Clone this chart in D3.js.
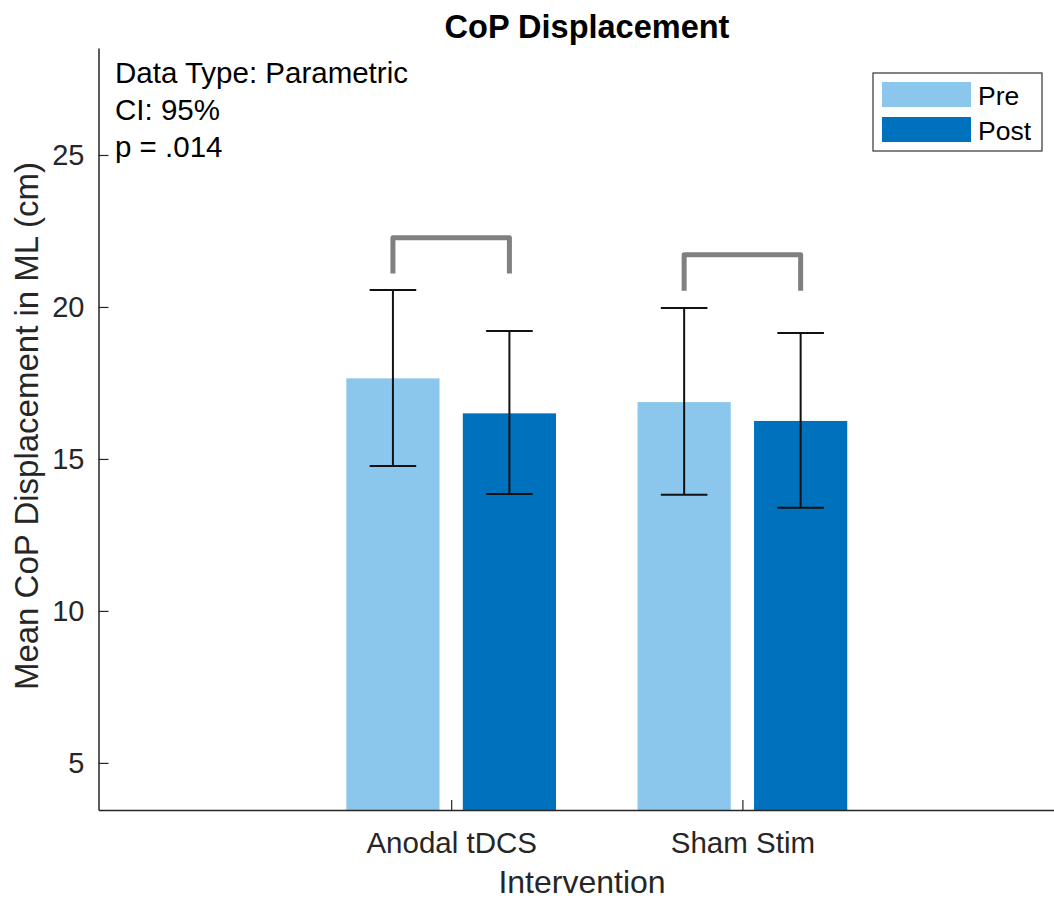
<!DOCTYPE html>
<html>
<head>
<meta charset="utf-8">
<script src="https://cdn.jsdelivr.net/npm/d3@7"></script>
<style>
  body { margin: 0; background: #fff; }
  svg { display: block; font-family: "Liberation Sans", Arial, sans-serif; }
</style>
</head>
<body>
<svg id="chart"></svg>
<script>
// data
const categories = ["Anodal tDCS", "Sham Stim"];
const seriesNames = ["Pre", "Post"];
const preMeans = [17.65, 16.87];
const postMeans = [16.5, 16.25];
const preLow = [14.77, 13.82];
const preHigh = [20.56, 19.97];
const postLow = [13.85, 13.39];
const postHigh = [19.21, 19.14];
const bracketTop = [22.28, 21.72];
const bracketEnd = [21.1, 20.53];
const yTicks = [5, 10, 15, 20, 25];
const notes = ["Data Type: Parametric", "CI: 95%", "p = .014"];

const colors = ["#8BC7EC", "#0072BD"];

// setting up svg
const w = 1054, h = 899;
const mLeft = 98.5, mTop = 48, mBottom = 810, mRight = 1054;
const svg = d3.select("#chart").attr("width", w).attr("height", h);

// scales
const x = d3.scaleLinear().domain([-0.211, 3.07]).range([mLeft, mRight]);
const y = d3.scaleLinear().domain([3.45, 28.52]).range([mBottom, mTop]);
const offset = 0.2, barW = 0.32;

const bars = [];
categories.forEach((c, i) => {
  bars.push({ cat: i + 1, s: 0, v: preMeans[i], lo: preLow[i], hi: preHigh[i] });
  bars.push({ cat: i + 1, s: 1, v: postMeans[i], lo: postLow[i], hi: postHigh[i] });
});
const cx = d => x(d.cat + (d.s === 0 ? -offset : offset));

// bars
svg.append("g").selectAll("rect")
  .data(bars)
  .join("rect")
    .attr("x", d => cx(d) - (x(barW) - x(0)) / 2)
    .attr("width", x(barW) - x(0))
    .attr("y", d => y(d.v))
    .attr("height", d => mBottom - y(d.v))
    .attr("fill", d => colors[d.s]);

// error bars
const eb = svg.append("g").attr("stroke", "#111").attr("stroke-width", 2);
const capW = 0.16;
bars.forEach(d => {
  const c = cx(d), hw = (x(capW) - x(0)) / 2;
  eb.append("line").attr("x1", c).attr("x2", c).attr("y1", y(d.lo)).attr("y2", y(d.hi));
  eb.append("line").attr("x1", c - hw).attr("x2", c + hw).attr("y1", y(d.lo)).attr("y2", y(d.lo));
  eb.append("line").attr("x1", c - hw).attr("x2", c + hw).attr("y1", y(d.hi)).attr("y2", y(d.hi));
});

// significance brackets
svg.append("g").selectAll("path")
  .data(categories.map((c, i) => ({ cat: i + 1, top: bracketTop[i], end: bracketEnd[i] })))
  .join("path")
    .attr("d", d => {
      const x1 = x(d.cat - offset), x2 = x(d.cat + offset);
      return `M${x1},${y(d.end)}V${y(d.top)}H${x2}V${y(d.end)}`;
    })
    .attr("fill", "none")
    .attr("stroke", "#808080")
    .attr("stroke-width", 5)
    .attr("stroke-linejoin", "round");

// axes
const yAxis = svg.append("g")
  .attr("transform", `translate(${mLeft},0)`)
  .call(d3.axisLeft(y).tickValues(yTicks).tickSizeInner(-10).tickSizeOuter(0).tickPadding(14));
const xAxis = svg.append("g")
  .attr("transform", `translate(0,${mBottom})`)
  .call(d3.axisBottom(x).tickValues([1, 2]).tickFormat((d, i) => categories[i])
    .tickSizeInner(-10).tickSizeOuter(0).tickPadding(22));
[yAxis, xAxis].forEach(g => {
  g.select(".domain").attr("stroke", "#262626").attr("stroke-width", 1.5);
  g.selectAll(".tick line").attr("stroke", "#262626").attr("stroke-width", 1.2);
  g.selectAll(".tick text").attr("fill", "#262626").style("font-size", "29px")
    .style("font-family", "Liberation Sans, Arial, sans-serif");
});
xAxis.selectAll(".tick text").style("font-size", "29.5px").attr("dy", "0.71em");

// titles
svg.append("text")
  .attr("x", 587).attr("y", 38)
  .attr("text-anchor", "middle")
  .style("font-size", "32.5px").style("font-weight", "bold")
  .text("CoP Displacement");
svg.append("text")
  .attr("x", 582).attr("y", 893)
  .attr("text-anchor", "middle")
  .attr("fill", "#262626")
  .style("font-size", "32px")
  .text("Intervention");
svg.append("text")
  .attr("transform", `translate(38,${(mTop + mBottom) / 2 - 3}) rotate(-90)`)
  .attr("text-anchor", "middle")
  .attr("fill", "#262626")
  .style("font-size", "33px")
  .text("Mean CoP Displacement in ML (cm)");

// annotation text
svg.append("g").selectAll("text")
  .data(notes)
  .join("text")
    .attr("x", 115)
    .attr("y", (d, i) => 83 + i * 37)
    .style("font-size", "29.5px")
    .text(d => d);

// legend
const lg = svg.append("g");
lg.append("rect")
  .attr("x", 873).attr("y", 73).attr("width", 169).attr("height", 78)
  .attr("fill", "#fff").attr("stroke", "#333").attr("stroke-width", 1.2);
seriesNames.forEach((n, i) => {
  lg.append("rect")
    .attr("x", 882).attr("y", 82 + i * 35).attr("width", 89).attr("height", 25)
    .attr("fill", colors[i]);
  lg.append("text")
    .attr("x", 978).attr("y", 105 + i * 35)
    .style("font-size", "26.5px")
    .text(n);
});
</script>
</body>
</html>
